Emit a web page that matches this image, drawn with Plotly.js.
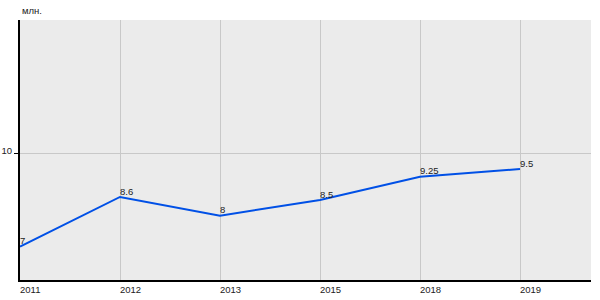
<!DOCTYPE html>
<html>
<head>
<meta charset="utf-8">
<script src="https://cdn.plot.ly/plotly-3.0.1.min.js"></script>
<style>html,body{margin:0;padding:0;background:#fff}#chart{width:600px;height:300px}</style>
</head>
<body>
<div id="chart"></div>
<script>
const years = ["2011", "2012", "2013", "2015", "2018", "2019"];
const values = [7, 8.6, 8, 8.5, 9.25, 9.5];
const labels = ["7", "8.6", "8", "8.5", "9.25", "9.5"];
const yTicks = [10];
const yTickText = ["10"];
const unitLabel = "млн.";

const FONT = "Liberation Sans, Arial, sans-serif";

const trace = {
  x: years,
  y: values,
  type: "scatter",
  mode: "lines+text",
  text: labels,
  textposition: "top right",
  textfont: {family: FONT, size: 9.5, color: "#222"},
  line: {color: "#0050e6", width: 2},
  hoverinfo: "none",
  cliponaxis: false
};

const layout = {
  width: 600, height: 300,
  margin: {l: 20, r: 9, t: 20, b: 20},
  paper_bgcolor: "#ffffff",
  plot_bgcolor: "#ebebeb",
  showlegend: false,
  font: {family: FONT, size: 9.5, color: "#222"},
  xaxis: {
    type: "category",
    range: [0, 5.71],
    showgrid: true, gridcolor: "#c8c8c8", gridwidth: 1,
    showline: true, linecolor: "#000", linewidth: 2,
    ticks: "", ticklabelposition: "outside right", ticklabelshift: -1,
    zeroline: false, fixedrange: true,
    tickfont: {family: FONT, size: 9.5, color: "#222"}
  },
  yaxis: {
    range: [5.93, 14.29],
    tickvals: yTicks, ticktext: yTickText,
    showgrid: true, gridcolor: "#c8c8c8", gridwidth: 1,
    showline: true, linecolor: "#000", linewidth: 2,
    ticks: "outside", ticklen: 4, tickcolor: "#000",
    ticklabelposition: "outside", ticklabelshift: -3, ticklabelstandoff: 0,
    zeroline: false, fixedrange: true,
    tickfont: {family: FONT, size: 9.5, color: "#222"}
  },
  annotations: [{
    text: unitLabel, xref: "paper", yref: "paper",
    x: 0, y: 1, xanchor: "left", yanchor: "bottom", yshift: 2,
    showarrow: false, font: {family: FONT, size: 9.5, color: "#222"}
  }]
};

Plotly.newPlot("chart", [trace], layout, {displayModeBar: false, staticPlot: true});
</script>
</body>
</html>
